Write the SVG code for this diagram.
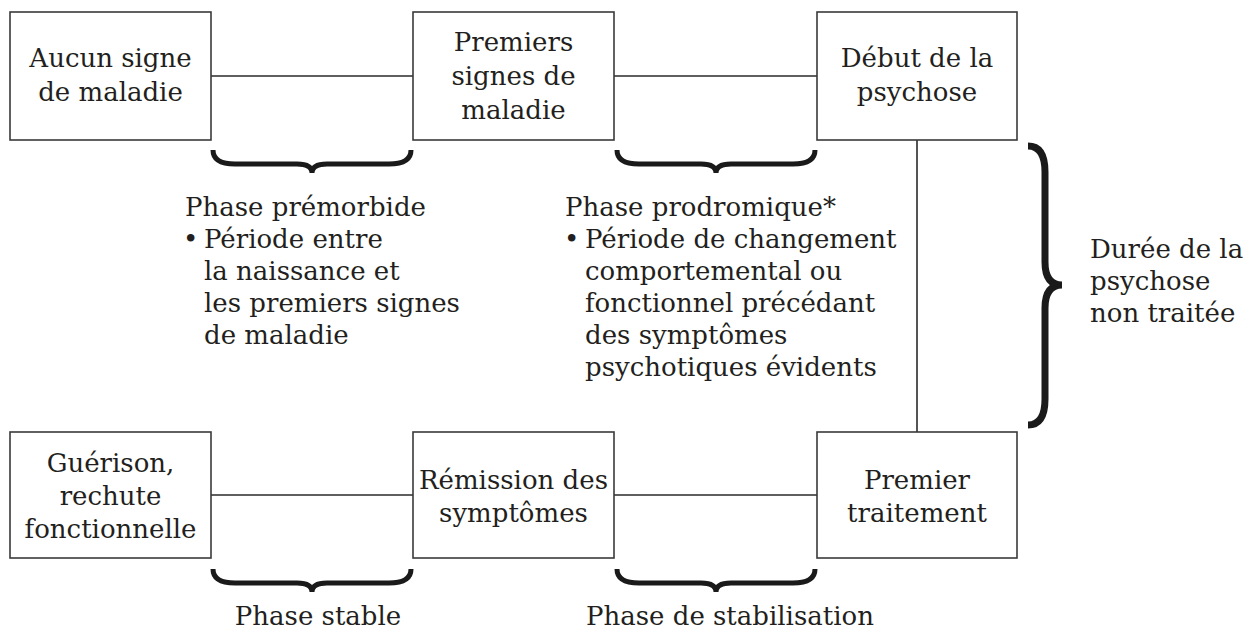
<svg xmlns="http://www.w3.org/2000/svg" xmlns:xlink="http://www.w3.org/1999/xlink" width="1254" height="630" viewBox="0 0 1254 630">
<style>
  .box { fill: #ffffff; stroke: #3a3a3a; stroke-width: 1.6; }
  .conn { fill: none; stroke: #2a2a2a; stroke-width: 1.6; }
  .t { font-family: "DejaVu Serif", "Liberation Serif", serif; font-size: 26px; fill: #231f20; }
  .c { text-anchor: middle; }
  .brace { fill: none; stroke: #1a1a1a; stroke-width: 5; stroke-linejoin: miter; stroke-miterlimit: 10; }
  .vbrace { fill: none; stroke: #1a1a1a; stroke-width: 7; stroke-linejoin: miter; stroke-miterlimit: 10; }
</style>
<defs>
  <path id="hbrace" d="M 0,0 Q 0,14 22,14 L 84,14 Q 99,14 99,23 Q 99,14 114,14 L 176,14 Q 198,14 198,0"/>
</defs>
<rect width="1254" height="630" fill="#ffffff"/>

<g id="connectors">
  <line class="conn" x1="211" y1="76" x2="413" y2="76"/>
  <line class="conn" x1="614" y1="76" x2="817" y2="76"/>
  <line class="conn" x1="917" y1="140" x2="917" y2="432"/>
  <line class="conn" x1="211" y1="495" x2="413" y2="495"/>
  <line class="conn" x1="614" y1="495" x2="817" y2="495"/>
</g>

<g id="node-aucun-signe">
  <rect class="box" x="10" y="12" width="201" height="128"/>
  <text class="t c" x="110.5" y="67">Aucun signe</text>
  <text class="t c" x="110.5" y="101">de maladie</text>
</g>
<g id="node-premiers-signes">
  <rect class="box" x="413" y="12" width="201" height="128"/>
  <text class="t c" x="513.5" y="51">Premiers</text>
  <text class="t c" x="513.5" y="85">signes de</text>
  <text class="t c" x="513.5" y="119">maladie</text>
</g>
<g id="node-debut-psychose">
  <rect class="box" x="817" y="12" width="200" height="128"/>
  <text class="t c" x="917" y="67">Début de la</text>
  <text class="t c" x="917" y="101">psychose</text>
</g>
<g id="node-guerison">
  <rect class="box" x="10" y="432" width="201" height="126"/>
  <text class="t c" x="110.5" y="472">Guérison,</text>
  <text class="t c" x="110.5" y="505">rechute</text>
  <text class="t c" x="110.5" y="538">fonctionnelle</text>
</g>
<g id="node-remission">
  <rect class="box" x="413" y="432" width="201" height="126"/>
  <text class="t c" x="513.5" y="489">Rémission des</text>
  <text class="t c" x="513.5" y="522">symptômes</text>
</g>
<g id="node-premier-traitement">
  <rect class="box" x="817" y="432" width="200" height="126"/>
  <text class="t c" x="917" y="489">Premier</text>
  <text class="t c" x="917" y="522">traitement</text>
</g>

<g id="braces">
  <use xlink:href="#hbrace" class="brace" x="213" y="150"/>
  <use xlink:href="#hbrace" class="brace" x="617" y="150"/>
  <use xlink:href="#hbrace" class="brace" x="213" y="569"/>
  <use xlink:href="#hbrace" class="brace" x="617" y="569"/>
  <path class="vbrace" d="M 1028,146 Q 1045,146 1045,172 L 1045,262 Q 1045,285 1062,285 Q 1045,285 1045,308 L 1045,399 Q 1045,425 1028,425"/>
</g>

<g id="label-premorbide">
  <text class="t" x="185" y="216">Phase prémorbide</text>
  <text class="t" y="248"><tspan x="183">•</tspan><tspan x="204">Période entre</tspan></text>
  <text class="t" x="204" y="280">la naissance et</text>
  <text class="t" x="204" y="312">les premiers signes</text>
  <text class="t" x="204" y="344">de maladie</text>
</g>
<g id="label-prodromique">
  <text class="t" x="565" y="216">Phase prodromique*</text>
  <text class="t" y="248"><tspan x="564">•</tspan><tspan x="585">Période de changement</tspan></text>
  <text class="t" x="585" y="280">comportemental ou</text>
  <text class="t" x="585" y="312">fonctionnel précédant</text>
  <text class="t" x="585" y="344">des symptômes</text>
  <text class="t" x="585" y="376">psychotiques évidents</text>
</g>
<g id="label-duree">
  <text class="t" x="1090" y="258">Durée de la</text>
  <text class="t" x="1090" y="290">psychose</text>
  <text class="t" x="1090" y="322">non traitée</text>
</g>
<g id="label-stable">
  <text class="t c" x="318" y="625">Phase stable</text>
</g>
<g id="label-stabilisation">
  <text class="t" x="586" y="625">Phase de stabilisation</text>
</g>
</svg>
